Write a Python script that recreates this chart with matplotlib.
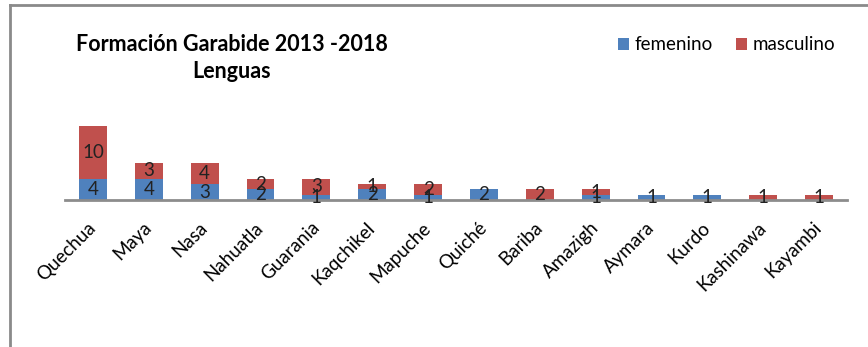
import numpy as np
import matplotlib.pyplot as plt
from matplotlib.lines import Line2D

lenguas = ['Quechua', 'Maya', 'Nasa', 'Nahuatla', 'Guarania', 'Kaqchikel', 'Mapuche',
           'Quiché', 'Bariba', 'Amazigh', 'Aymara', 'Kurdo', 'Kashinawa', 'Kayambi']
femenino = [4, 4, 3, 2, 1, 2, 1, 2, 0, 1, 1, 1, 0, 0]
masculino = [10, 3, 4, 2, 3, 1, 2, 0, 2, 1, 0, 0, 1, 1]

azul = '#4F81BD'
rojo = '#C0504D'
plt.rcParams['font.family'] = ['Lato', 'DejaVu Sans']

fig = plt.figure(figsize=(8.68, 3.47), dpi=100)
ax = fig.add_axes([65/868, 147/347, 782/868, 160/347])

x = np.arange(len(lenguas))
f = np.array(femenino)
m = np.array(masculino)
b1 = ax.bar(x, f, width=0.5, color=azul, label='femenino')
b2 = ax.bar(x, m, width=0.5, bottom=f, color=rojo, label='masculino')

for i in range(len(lenguas)):
    if f[i] > 0:
        ax.text(x[i], f[i] / 2, str(f[i]), ha='center', va='center', fontsize=13.5, color='#222222')
    if m[i] > 0:
        ax.text(x[i], f[i] + m[i] / 2, str(m[i]), ha='center', va='center', fontsize=13.5, color='#222222')

ax.set_xlim(-0.5, len(lenguas) - 0.5)
ax.set_ylim(0, 160 / 5.3)
ax.set_xticks(x)
ax.set_xticklabels(lenguas, rotation=45, ha='right', va='center', rotation_mode='anchor', fontsize=13.5)
ax.tick_params(axis='x', length=0, pad=18)
ax.set_yticks([])
for s in ['top', 'right', 'left']:
    ax.spines[s].set_visible(False)
ax.spines['bottom'].set_color('#8c8c8c')
ax.spines['bottom'].set_linewidth(2)
ax.set_zorder(2)

fig.text(232/868, 1 - 58/347, 'Formación Garabide 2013 -2018\nLenguas', ha='center', va='center',
         fontsize=15.5, fontweight='bold', linespacing=1.35)

fig.legend(handles=[b1, b2], loc='center right', bbox_to_anchor=(852/868, 1 - 45/347),
           ncol=2, frameon=False, fontsize=13.5, handlelength=0.6, handleheight=0.6,
           handletextpad=0.3, columnspacing=1.2)

# marco recortado (solo arriba e izquierda)
fig.add_artist(Line2D([10/868, 10/868], [0, 1 - 5/347], transform=fig.transFigure, color='#8a8a8a', lw=2))
fig.add_artist(Line2D([10/868, 1], [1 - 5/347, 1 - 5/347], transform=fig.transFigure, color='#8a8a8a', lw=2))

fig.savefig('out.png', dpi=100)
